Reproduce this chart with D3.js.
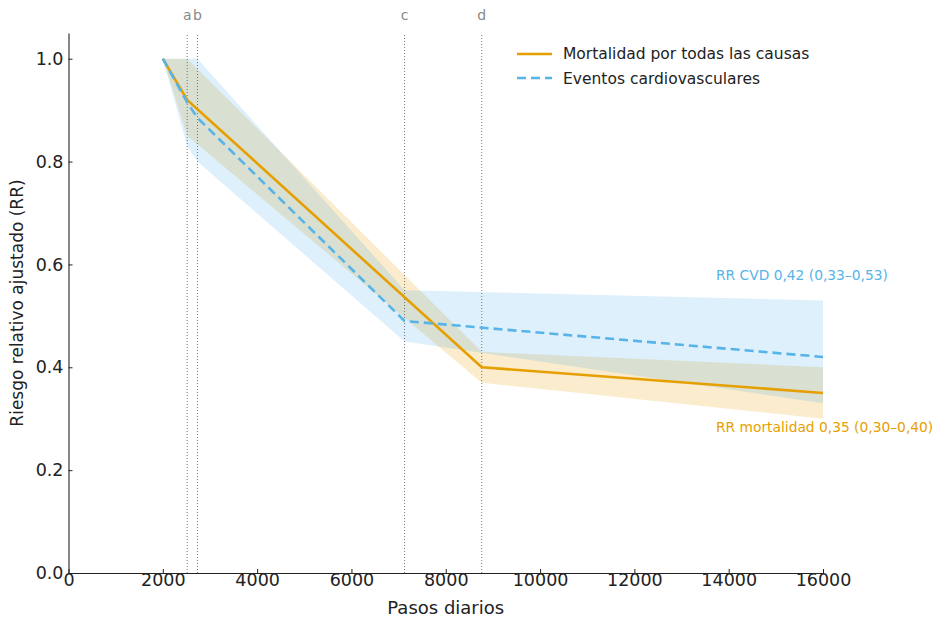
<!DOCTYPE html>
<html>
<head>
<meta charset="utf-8">
<script src="https://cdn.jsdelivr.net/npm/d3@7"></script>
<style>
  body { margin: 0; background: #fff; }
  svg { display: block; font-family: "DejaVu Sans", sans-serif; }
</style>
</head>
<body>
<svg id="chart" width="939" height="622"></svg>
<script>
// mortalidad por todas las causas
var stepsMort = [2000, 2517, 8763, 16000];
var rrMort = [1.0, 0.92, 0.40, 0.35];
var loMort = [1.0, 0.85, 0.37, 0.30];
var hiMort = [1.0, 1.0, 0.43, 0.40];

// eventos cardiovasculares
var stepsCvd = [2000, 2517, 2735, 7126, 16000];
var rrCvd = [1.0, 0.915, 0.885, 0.49, 0.42];
var loCvd = [1.0, 0.83, 0.80, 0.45, 0.33];
var hiCvd = [1.0, 1.0, 1.0, 0.55, 0.53];

// umbrales marcados
var markSteps = [2517, 2735, 7126, 8763];
var markLabels = ["a", "b", "c", "d"];

var xTicks = [0, 2000, 4000, 6000, 8000, 10000, 12000, 14000, 16000];
var yTicks = [0.0, 0.2, 0.4, 0.6, 0.8, 1.0];

var seriesNames = ["Mortalidad por todas las causas", "Eventos cardiovasculares"];
var noteCvd = "RR CVD 0,42 (0,33\u20130,53)";
var noteMort = "RR mortalidad 0,35 (0,30\u20130,40)";

var orange = "#E69F00";
var blue = "#56B4E9";

var margin = { top: 33, right: 116, bottom: 49, left: 68.5 };
var width = 939, height = 622;

var svg = d3.select("#chart");

var x = d3.scaleLinear().domain([0, 16000]).range([margin.left, width - margin.right]);
var y = d3.scaleLinear().domain([0, 1.05]).range([height - margin.bottom, margin.top]);

function rows(steps, rr, lo, hi) {
  return steps.map(function (s, i) { return { s: s, rr: rr[i], lo: lo[i], hi: hi[i] }; });
}
var mort = rows(stepsMort, rrMort, loMort, hiMort);
var cvd = rows(stepsCvd, rrCvd, loCvd, hiCvd);

var band = d3.area()
  .x(function (d) { return x(d.s); })
  .y0(function (d) { return y(d.lo); })
  .y1(function (d) { return y(d.hi); });
var line = d3.line()
  .x(function (d) { return x(d.s); })
  .y(function (d) { return y(d.rr); });

// bandas
svg.append("path").datum(mort).attr("d", band)
  .attr("fill", orange).attr("fill-opacity", 0.2);
svg.append("path").datum(cvd).attr("d", band)
  .attr("fill", blue).attr("fill-opacity", 0.2);

// lineas verticales
svg.append("g").selectAll("line")
  .data(markSteps)
  .join("line")
  .attr("x1", function (d) { return x(d); })
  .attr("x2", function (d) { return x(d); })
  .attr("y1", y(0))
  .attr("y2", y(1.05))
  .attr("stroke", "#666")
  .attr("stroke-width", 0.9)
  .attr("stroke-dasharray", "1,2");

svg.append("g")
  .attr("fill", "#888")
  .attr("text-anchor", "middle")
  .style("font-size", "14px")
  .selectAll("text")
  .data(markSteps)
  .join("text")
  .attr("x", function (d) { return x(d); })
  .attr("y", 20)
  .text(function (d, i) { return markLabels[i]; });

// lineas
svg.append("path").datum(mort).attr("d", line)
  .attr("fill", "none").attr("stroke", orange).attr("stroke-width", 2.6);
svg.append("path").datum(cvd).attr("d", line)
  .attr("fill", "none").attr("stroke", blue).attr("stroke-width", 2.6)
  .attr("stroke-dasharray", "9,5");

// ejes
var xAxis = svg.append("g")
  .attr("transform", "translate(0," + y(0) + ")")
  .call(d3.axisBottom(x).tickValues(xTicks).tickFormat(d3.format("d"))
    .tickSizeInner(-4).tickSizeOuter(0).tickPadding(1));
var yAxis = svg.append("g")
  .attr("transform", "translate(" + x(0) + ",0)")
  .call(d3.axisLeft(y).tickValues(yTicks).tickFormat(d3.format(".1f"))
    .tickSizeInner(-4).tickSizeOuter(0).tickPadding(5));
[xAxis, yAxis].forEach(function (g) {
  g.select(".domain").attr("stroke", "#222").attr("stroke-width", 1.1);
  g.selectAll(".tick line").attr("stroke", "#222");
  g.selectAll("text").attr("fill", "#222").style("font-size", "17.5px")
    .style("font-family", "DejaVu Sans, sans-serif");
});

svg.append("text")
  .attr("x", (x(0) + x(16000)) / 2)
  .attr("y", 614)
  .attr("text-anchor", "middle")
  .attr("fill", "#222")
  .style("font-size", "18px")
  .text("Pasos diarios");
svg.append("text")
  .attr("transform", "translate(23," + (y(0) + y(1.05)) / 2 + ") rotate(-90)")
  .attr("text-anchor", "middle")
  .attr("fill", "#222")
  .style("font-size", "17px")
  .text("Riesgo relativo ajustado (RR)");

// anotaciones
svg.append("text").attr("x", 716).attr("y", 280)
  .attr("fill", blue).style("font-size", "13.8px").text(noteCvd);
svg.append("text").attr("x", 716).attr("y", 432)
  .attr("fill", orange).style("font-size", "13.8px").text(noteMort);

// leyenda
var legend = svg.append("g").attr("transform", "translate(517,54)");
legend.append("line").attr("x1", 0).attr("x2", 35).attr("y1", 0).attr("y2", 0)
  .attr("stroke", orange).attr("stroke-width", 2.6);
legend.append("line").attr("x1", 0).attr("x2", 35).attr("y1", 24).attr("y2", 24)
  .attr("stroke", blue).attr("stroke-width", 2.6).attr("stroke-dasharray", "9,5");
legend.selectAll("text")
  .data(seriesNames)
  .join("text")
  .attr("x", 46)
  .attr("y", function (d, i) { return 4.5 + i * 25; })
  .attr("fill", "#222")
  .style("font-size", "15.5px")
  .text(function (d) { return d; });
</script>
</body>
</html>
